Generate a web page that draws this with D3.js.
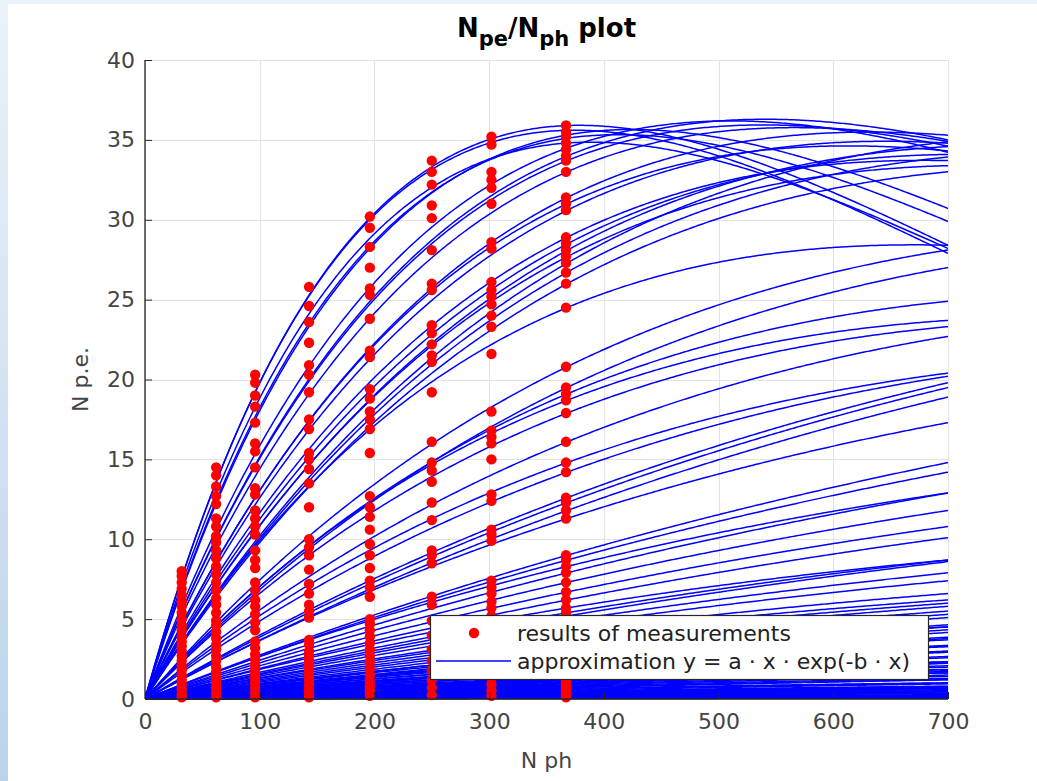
<!DOCTYPE html>
<html><head><meta charset="utf-8">
<script src="https://cdn.jsdelivr.net/npm/d3@7"></script>
<style>
body{margin:0;background:#fff;}
svg{display:block;font-family:"DejaVu Sans",sans-serif;}
</style>
</head><body>
<svg id="c" width="1037" height="781"></svg>
<script>
// ---- data ----
const xTicks = [0, 100, 200, 300, 400, 500, 600, 700];
const yTicks = [0, 5, 10, 15, 20, 25, 30, 35, 40];
const measX = [32, 62, 96, 143, 196, 250, 302, 367];

// measurement readings per column
const meas032 = [8.0,7.7,7.3,6.9,6.5,6.1,5.8,5.4,5.0,4.6,4.3,3.9,3.6,3.3,3.0,2.7,2.4,2.1,1.8,1.5,1.2,0.9,0.6,0.3,0.1];
const meas062 = [14.5,14.0,13.3,12.7,12.2,11.3,10.8,10.2,9.8,9.3,8.8,8.3,7.8,7.3,6.8,6.3,5.9,5.4,4.9,4.6,4.2,3.8,3.4,3.1,2.7,2.4,2.0,1.7,1.3,1.0,0.7,0.4,0.1];
const meas096 = [20.3,19.8,19.0,18.3,17.3,16.0,15.5,14.5,13.2,12.8,11.8,11.3,10.8,10.3,9.3,8.7,8.2,7.3,6.8,6.2,5.8,5.3,4.8,4.3,3.6,3.2,2.8,2.5,2.2,1.9,1.6,1.3,1.0,0.7,0.4,0.1];
const meas143 = [25.8,24.6,23.6,22.3,20.9,20.3,19.2,17.5,16.9,15.4,15.0,14.4,13.5,12.0,10.0,9.5,9.0,8.1,7.2,6.6,5.9,5.5,5.1,3.7,3.4,3.0,2.7,2.4,2.1,1.8,1.5,1.2,0.9,0.6,0.3,0.1];
const meas196 = [30.2,29.5,28.3,27.0,25.7,25.3,23.8,21.8,21.4,19.4,18.8,18.0,17.5,16.9,15.4,12.7,12.0,11.4,10.6,9.7,9.0,8.2,7.4,7.0,6.4,5.0,4.7,4.3,3.9,3.5,3.1,2.7,2.3,1.9,1.5,1.1,0.8,0.5,0.2];
const meas250 = [33.7,33.0,32.2,30.9,30.1,28.1,26.0,25.6,23.4,22.9,22.2,21.5,21.1,19.2,16.1,14.8,14.3,13.6,12.3,11.2,9.3,9.0,8.5,6.4,5.9,4.9,4.0,3.1,2.4,1.8,1.2,0.7,0.25];
const meas302 = [35.2,34.7,33.0,32.5,32.0,31.0,28.6,28.2,26.1,25.6,25.2,24.7,24.0,23.3,21.6,18.0,16.8,16.4,16.0,15.0,12.8,12.4,10.6,10.3,9.9,7.4,7.0,6.6,6.1,5.7,5.2,4.8,4.3,3.8,3.3,2.8,2.3,1.8,1.3,0.9,0.5,0.2];
const meas367 = [35.9,35.5,35.2,34.8,34.4,34.0,33.7,33.0,31.4,31.0,30.6,28.9,28.5,28.1,27.7,27.3,26.7,26.0,24.5,20.8,19.5,19.1,18.7,17.9,16.1,14.8,14.2,12.6,12.3,11.8,11.3,9.0,8.7,8.3,7.9,7.3,6.7,6.2,5.7,5.4,5.2,4.9,4.6,4.2,4.0,3.8,3.6,3.4,3.2,3.0,2.8,2.6,2.4,2.2,2.0,1.85,1.7,1.55,1.4,1.3,1.2,1.1,1.0,0.9,0.8,0.7,0.6,0.5,0.4,0.3,0.2,0.1];

// fitted parameters of y = a * x * exp(-b * x), one pair per curve
const fitA = [0.2579,0.2585,0.2284,0.2324,0.2435,
  0.1929,0.1824,0.1814,0.1719,0.1528,0.1536,0.1470,0.1351,0.1294,0.1236,0.1247,0.1152,0.1136,0.1106,
  0.1153,0.08258,0.07534,0.07889,0.0797,0.07406,0.06097,
  0.05747,0.05325,0.04231,0.0409,0.0388,0.03906,
  0.02873,0.02801,0.02821,0.02542,0.02376,0.02187,0.02001,
  0.01977,0.01764,0.0165,0.01599,0.01505,0.0141,0.01364,0.01269,0.01176,0.01106,0.01014,0.00923,
  0.009145,0.008185,0.007838,0.006677,0.006296,0.006042,0.00516,0.00488,0.004572,0.003946,0.003778,0.003593,
  0.003035,0.002833,0.002613,0.002125,0.001889,0.001633,0.001275,0.001102,0.000914,0.000668,0.000504,0.000327,0.000152,
  0.009828,0.008195,0.00787,0.007512,0.007117,0.005918,0.005666,0.005389,0.005084,0.004097,0.003935,0.003756,0.003558,
  0.002883,0.002676,0.00245,0.002203,0.001669,0.00148,0.001306,0.001118,0.000789,0.00063,0.000457,0.000271,0.000091,
  0.001525,0.001153,0.000944,0.000392];
const fitB = [0.002642,0.002671,0.002357,0.00242,0.00257,
  0.001961,0.001849,0.001857,0.001768,0.001584,0.001632,0.001549,0.001474,0.001396,0.00131,0.001373,0.001197,0.001217,0.001218,
  0.001492,0.00103,0.000956,0.001138,0.001223,0.001142,0.000902,
  0.00097,0.000875,0.000575,0.000549,0.000518,0.000654,
  0.000438,0.000461,0.000608,0.00046,0.00049,0.000499,0.000467,
  0.000663,0.0005,0.000421,0.000498,0.000504,0.000575,0.000616,0.000561,0.0005,0.000488,0.000417,0.000338,
  0.0005,0.0004,0.0005,0.0003,0.0004,0.0005,0.0003,0.0004,0.0005,0.0003,0.0004,0.0005,
  0.0003,0.0004,0.0005,0.0003,0.0004,0.0005,0.0003,0.0004,0.0005,0.0003,0.0004,0.0005,0.0003,
  0.0006,0.0003,0.0004,0.0005,0.0006,0.0003,0.0004,0.0005,0.0006,0.0003,0.0004,0.0005,0.0006,
  0.0003,0.0004,0.0005,0.0006,0.0003,0.0004,0.0005,0.0006,0.0003,0.0004,0.0005,0.0006,0.0003,
  0.0006,0.0003,0.0004,0.0005];

const titleMain = ["N", "pe", "/N", "ph", " plot"];
const xLabel = "N ph";
const yLabel = "N p.e.";
const legendLabels = ["results of measurements", "approximation y = a \u00b7 x \u00b7 exp(-b \u00b7 x)"];

// ---- chart ----
const svg = d3.select("#c");
const W = 1037, H = 781;
const L = 145, R = 948, T = 60, B = 699;

// window-like background
const defs = svg.append("defs");
const grad = defs.append("linearGradient").attr("id","lg").attr("x1",0).attr("y1",0).attr("x2",0).attr("y2",1);
grad.append("stop").attr("offset","0%").attr("stop-color","#eaf2fa");
grad.append("stop").attr("offset","100%").attr("stop-color","#bdd3ea");
svg.append("rect").attr("x",0).attr("y",0).attr("width",W).attr("height",H).attr("fill","#fff");
svg.append("rect").attr("x",0).attr("y",0).attr("width",W).attr("height",4).attr("fill","#eaf2fa");
svg.append("rect").attr("x",0).attr("y",0).attr("width",8).attr("height",H).attr("fill","url(#lg)");

defs.append("clipPath").attr("id","clip").append("rect")
  .attr("x",L).attr("y",T).attr("width",R-L).attr("height",B-T+1);

const x = d3.scaleLinear().domain([0,700]).range([L,R]);
const y = d3.scaleLinear().domain([0,40]).range([B,T]);

// grid
const grid = svg.append("g").attr("stroke","#e3e3e3").attr("stroke-width",1);
xTicks.forEach(t => grid.append("line").attr("x1",Math.round(x(t))+0.5).attr("x2",Math.round(x(t))+0.5).attr("y1",T).attr("y2",B));
yTicks.forEach(t => grid.append("line").attr("y1",Math.round(y(t))+0.5).attr("y2",Math.round(y(t))+0.5).attr("x1",L).attr("x2",R));

// curves
const xs = d3.range(0, 701, 2);
const line = d3.line().x(d => x(d[0])).y(d => y(d[1]));
const cg = svg.append("g").attr("clip-path","url(#clip)");
fitA.forEach((a, i) => {
  const b = fitB[i];
  cg.append("path")
    .attr("d", line(xs.map(v => [v, a * v * Math.exp(-b * v)])))
    .attr("fill","none").attr("stroke","#0000ff").attr("stroke-width",1.5);
});

// measurements
const cols = [meas032, meas062, meas096, meas143, meas196, meas250, meas302, meas367];
const pts = [];
cols.forEach((arr, i) => arr.forEach(v => pts.push([measX[i], v])));
svg.append("g").selectAll("circle").data(pts).join("circle")
  .attr("cx", d => x(d[0])).attr("cy", d => y(d[1])).attr("r", 5.2).attr("fill","#ff0000");

// axes
const axCol = "#262626";
const xAxis = d3.axisBottom(x).tickValues(xTicks).tickSize(-7).tickPadding(14);
const yAxis = d3.axisLeft(y).tickValues(yTicks).tickSize(-7).tickPadding(10);
const gx = svg.append("g").attr("transform",`translate(0,${B})`).call(xAxis);
const gy = svg.append("g").attr("transform",`translate(${L},0)`).call(yAxis);
[gx, gy].forEach(g => {
  g.select(".domain").attr("stroke",axCol).attr("stroke-width",1.3);
  g.selectAll(".tick line").attr("stroke",axCol).attr("stroke-width",1);
  g.selectAll(".tick text").attr("fill","#444").attr("font-size",22).attr("font-family","DejaVu Sans, sans-serif");
});
gx.select(".domain").attr("d",`M${L},0H${R}`);
gy.select(".domain").attr("d",`M0,${B}V${T}`);

// labels
svg.append("text").attr("x",(L+R)/2).attr("y",768).attr("text-anchor","middle")
  .attr("font-size",22).attr("fill","#444").text(xLabel);
svg.append("text").attr("transform",`translate(88,${(T+B)/2}) rotate(-90)`).attr("text-anchor","middle")
  .attr("font-size",22).attr("fill","#444").text(yLabel);

// title
const tt = svg.append("text").attr("x",(L+R)/2).attr("y",37).attr("text-anchor","middle")
  .attr("font-size",26).attr("font-weight","bold").attr("fill","#000");
titleMain.forEach((s, i) => {
  const sub = (i === 1 || i === 3);
  const ts = tt.append("tspan").text(s);
  if (sub) ts.attr("font-size",21).attr("dy",9);
  else if (i > 0) ts.attr("dy",-9);
});

// legend
const lg = svg.append("g");
lg.append("rect").attr("x",430.5).attr("y",615.5).attr("width",498).attr("height",64)
  .attr("fill","#fff").attr("stroke",axCol).attr("stroke-width",1.2);
lg.append("circle").attr("cx",474).attr("cy",633).attr("r",5.2).attr("fill","#ff0000");
lg.append("line").attr("x1",436).attr("x2",511).attr("y1",661).attr("y2",661).attr("stroke","#0000ff").attr("stroke-width",1.5);
legendLabels.forEach((s, i) => {
  lg.append("text").attr("x",517).attr("y",641 + i*28).attr("font-size",22).attr("fill","#222").text(s);
});
</script>
</body></html>
